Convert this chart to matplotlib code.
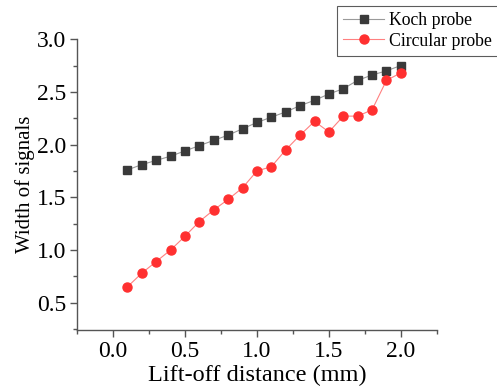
import matplotlib
matplotlib.use("Agg")
import matplotlib.pyplot as plt
from matplotlib.ticker import MultipleLocator

plt.rcParams['font.family'] = ['Liberation Serif', 'DejaVu Serif']

# lift-off distance (mm)
lift_off = [0.1, 0.2, 0.3, 0.4, 0.5, 0.6, 0.7, 0.8, 0.9, 1.0,
            1.1, 1.2, 1.3, 1.4, 1.5, 1.6, 1.7, 1.8, 1.9, 2.0]

# signal width for each probe
koch_width = [1.76, 1.81, 1.85, 1.89, 1.94, 1.99, 2.04, 2.09, 2.15, 2.21,
              2.26, 2.31, 2.37, 2.42, 2.48, 2.53, 2.61, 2.66, 2.70, 2.75]
circular_width = [0.65, 0.78, 0.89, 1.00, 1.13, 1.27, 1.38, 1.48, 1.59, 1.75,
                  1.79, 1.95, 2.09, 2.22, 2.12, 2.27, 2.27, 2.33, 2.61, 2.68]

fig = plt.figure(figsize=(4.97, 3.92), dpi=100)
ax = fig.add_axes([0.155, 0.158, 0.724, 0.742])

ax.plot(lift_off, koch_width, color='#9a9a9a', lw=0.8, marker='s', ms=5.5,
        mfc='#3a3a3a', mec='#3a3a3a', label='Koch probe')
ax.plot(lift_off, circular_width, color='#ff8080', lw=0.8, marker='o', ms=6.5,
        mfc='#ff3030', mec='#ff3030', label='Circular probe')

ax.set_xlim(-0.25, 2.25)
ax.set_ylim(0.24, 3.0)
ax.xaxis.set_major_locator(MultipleLocator(0.5))
ax.xaxis.set_minor_locator(MultipleLocator(0.25))
ax.yaxis.set_major_locator(MultipleLocator(0.5))
ax.yaxis.set_minor_locator(MultipleLocator(0.25))

for side in ['top', 'right']:
    ax.spines[side].set_visible(False)
for side in ['left', 'bottom']:
    ax.spines[side].set_color('#555555')
    ax.spines[side].set_linewidth(1.0)

ax.tick_params(which='major', direction='out', length=5, width=1,
               colors='#555555', labelcolor='black', labelsize=17, pad=3)
ax.tick_params(which='minor', direction='out', length=3, width=1,
               colors='#555555')

ax.set_xlabel('Lift-off distance (mm)', fontsize=17.5, labelpad=2)
ax.set_ylabel('Width of signals', fontsize=15, labelpad=1)

leg = ax.legend(loc='upper left', bbox_to_anchor=(0.678, 0.985),
                bbox_transform=fig.transFigure, fontsize=12.8, frameon=True,
                fancybox=False, edgecolor='#333333', borderpad=0.35,
                handlelength=2.3, handletextpad=0.25, labelspacing=0.2,
                borderaxespad=0)
leg.get_frame().set_linewidth(0.8)

fig.savefig('out.png', dpi=100)
